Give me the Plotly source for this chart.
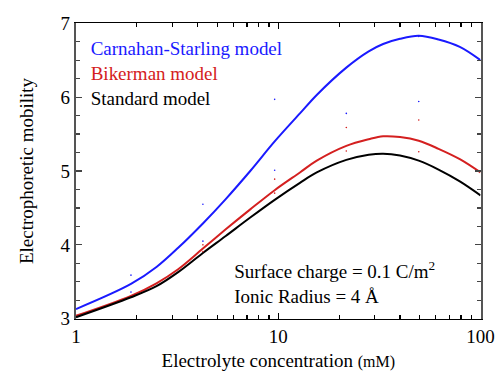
import plotly.graph_objects as go

conc = [1, 1.87, 2.5, 3.2, 4.24, 5.5, 7.27, 9.6, 12.8, 15.5, 21.7, 28, 33, 40, 49.5, 62, 79, 100]
cs_model = [3.13, 3.47, 3.70, 3.96, 4.29, 4.62, 5.00, 5.40, 5.78, 6.03, 6.40, 6.62, 6.72, 6.79, 6.83, 6.78, 6.68, 6.50]
bik_model = [3.04, 3.31, 3.48, 3.67, 3.95, 4.21, 4.48, 4.74, 4.98, 5.14, 5.34, 5.43, 5.47, 5.46, 5.41, 5.30, 5.16, 4.98]
std_model = [3.02, 3.29, 3.44, 3.63, 3.89, 4.12, 4.37, 4.61, 4.84, 4.98, 5.15, 5.22, 5.235, 5.21, 5.14, 5.02, 4.86, 4.67]

dot_conc = [1.87, 1.87, 4.24, 4.24, 9.6, 9.6, 21.7, 49.5, 49.5]
dot_blue = [3.59, 3.36, 4.55, 4.05, 5.97, 5.01, 5.78, 6.82, 5.94]
dot_red_conc = [4.24, 4.24, 9.6, 9.6, 21.7, 21.7, 49.5, 49.5]
dot_red = [4.00, 3.91, 4.89, 4.70, 5.59, 5.27, 5.69, 5.26]

labels = ["Carnahan-Starling model", "Bikerman model", "Standard model"]
colors = ["#1a1aff", "#d42020", "#000000"]

# The figure is laid out at a reduced scale and magnified with a CSS transform.
SCALE = 19 / 15.5


def S(v):
    return v / SCALE


fig = go.Figure()
for vals, col, name in zip([cs_model, bik_model, std_model], colors, labels):
    fig.add_trace(go.Scatter(x=conc, y=vals, mode="lines",
                             line=dict(color=col, width=S(2), shape="spline", smoothing=1.0),
                             name=name, showlegend=False))
fig.add_trace(go.Scatter(x=dot_conc, y=dot_blue, mode="markers", marker=dict(color=colors[0], size=S(1.6)),
                         showlegend=False))
fig.add_trace(go.Scatter(x=dot_red_conc, y=dot_red, mode="markers", marker=dict(color=colors[1], size=S(1.6)),
                         showlegend=False))

font = "Liberation Serif, DejaVu Serif"
legend_text = "<br>".join("<span style='color:%s'>%s</span>" % (c, t) for t, c in zip(labels, colors))
fig.add_annotation(x=0.03, y=0.96, xref="paper", yref="paper", xanchor="left", yanchor="top", align="left",
                   text=legend_text, showarrow=False, font=dict(family=font, size=S(19), color="black"))
fig.add_annotation(x=0.385, y=0.165, xref="paper", yref="paper", xanchor="left", yanchor="middle",
                   text="Surface charge = 0.1 C/m<sup>2</sup>",
                   showarrow=False, font=dict(family=font, size=S(19), color="black"))
fig.add_annotation(x=0.385, y=0.075, xref="paper", yref="paper", xanchor="left", yanchor="middle",
                   text="Ionic Radius = 4 Å", showarrow=False,
                   font=dict(family=font, size=S(19), color="black"))

minor_vals = [2, 3, 4, 5, 6, 7, 8, 9, 20, 30, 40, 50, 60, 70, 80, 90]
fig.update_xaxes(type="log", range=[0, 2], tickvals=[1, 10, 100], ticktext=["1", "10", "100"],
                 ticks="inside", ticklen=S(6), tickwidth=S(1.2), tickcolor="black", showline=True,
                 linecolor="black", linewidth=S(1.5),
                 mirror="allticks", showgrid=False, zeroline=False, automargin=False,
                 minor=dict(tickvals=minor_vals, ticks="inside", ticklen=S(4), tickwidth=S(1.2),
                            tickcolor="black", showgrid=False),
                 tickfont=dict(family=font, size=S(19), color="black"),
                 title=dict(text="Electrolyte concentration <span style='font-size:%.2fpx'>(mM)</span>" % S(16),
                            font=dict(family=font, size=S(19), color="black"), standoff=S(8)))
fig.update_yaxes(range=[3, 7], tickvals=[3, 4, 5, 6, 7], ticks="inside", ticklen=S(6), tickwidth=S(1.2),
                 tickcolor="#444", showline=True, linecolor="#555", linewidth=S(2), mirror="allticks",
                 showgrid=False, zeroline=False, automargin=False,
                 minor=dict(dtick=0.25, ticks="inside", ticklen=S(4), tickwidth=S(1.2), tickcolor="#444",
                            showgrid=False),
                 tickfont=dict(family=font, size=S(19), color="black"),
                 title=dict(text="Electrophoretic mobility", font=dict(family=font, size=S(19), color="black"),
                            standoff=S(22)))

fig.update_layout(width=S(496), height=S(382), margin=dict(l=S(76), r=S(16), t=S(23), b=S(64)),
                  plot_bgcolor="white", paper_bgcolor="white")

post = (
    "document.body.style.margin='0';document.body.style.padding='0';"
    "var d=document.getElementById('{plot_id}');"
    "d.style.transformOrigin='0 0';d.style.transform='scale(%.6f)';" % SCALE
)
fig.write_html("out.html", config=dict(displayModeBar=False), post_script=post)
